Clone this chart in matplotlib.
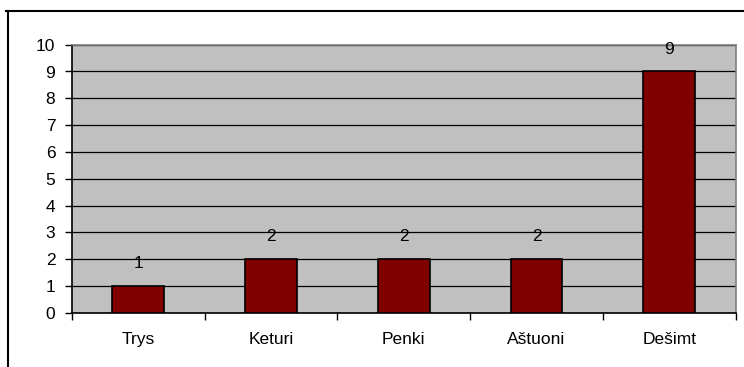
import matplotlib
matplotlib.use("Agg")
import matplotlib.pyplot as plt
from matplotlib.lines import Line2D

categories = ["Trys", "Keturi", "Penki", "Aštuoni", "Dešimt"]
values = [1, 2, 2, 2, 9]
y_ticks = list(range(0, 11))

plt.rcParams["font.family"] = ["Liberation Sans", "DejaVu Sans"]
FS = 12.5

W, H = 744, 367
fig = plt.figure(figsize=(W / 100, H / 100), dpi=100)
fig.patch.set_facecolor("white")

# plot area in pixel terms
left, right, top, bottom = 72, 735.7, 44.7, 312.7
ax = fig.add_axes([left / W, 1 - bottom / H, (right - left) / W, (bottom - top) / H])
ax.set_facecolor("#c0c0c0")

x = list(range(len(categories)))
ax.bar(x, values, width=0.39, color="#800000", edgecolor="black", linewidth=1.2, zorder=3)

for xi, v in zip(x, values):
    ax.annotate(str(v), (xi, v), xytext=(0, 16), textcoords="offset points",
                ha="center", va="center", fontsize=FS, color="black", zorder=4)

ax.set_xlim(-0.5, len(categories) - 0.5)
ax.set_ylim(0, 10)
ax.set_yticks(y_ticks)
ax.set_yticklabels([str(t) for t in y_ticks], fontsize=FS)
ax.set_xticks(x)
ax.set_xticklabels(categories, fontsize=FS)
ax.set_xticks([i + 0.5 for i in range(-1, len(categories))], minor=True)

ax.yaxis.grid(True, color="black", linewidth=0.9, zorder=1)
ax.set_axisbelow(True)

ax.tick_params(axis="y", direction="out", length=5, width=1, color="black", pad=7)
ax.tick_params(axis="x", which="major", length=0, pad=14)
ax.tick_params(axis="x", which="minor", direction="out", length=5, width=1, color="black")

for side in ("top", "right"):
    ax.spines[side].set_color("#808080")
    ax.spines[side].set_linewidth(1.2)
for side in ("left", "bottom"):
    ax.spines[side].set_color("black")
    ax.spines[side].set_linewidth(1.2)

# outer chart frame (left and top edges)
fig.add_artist(Line2D([8 / W, 8 / W], [0, 1 - 11 / H], color="black", linewidth=1.5,
                      transform=fig.transFigure))
fig.add_artist(Line2D([6 / W, 1], [1 - 11 / H, 1 - 11 / H], color="black", linewidth=1.5,
                      transform=fig.transFigure))

fig.savefig("out.png", dpi=100)
